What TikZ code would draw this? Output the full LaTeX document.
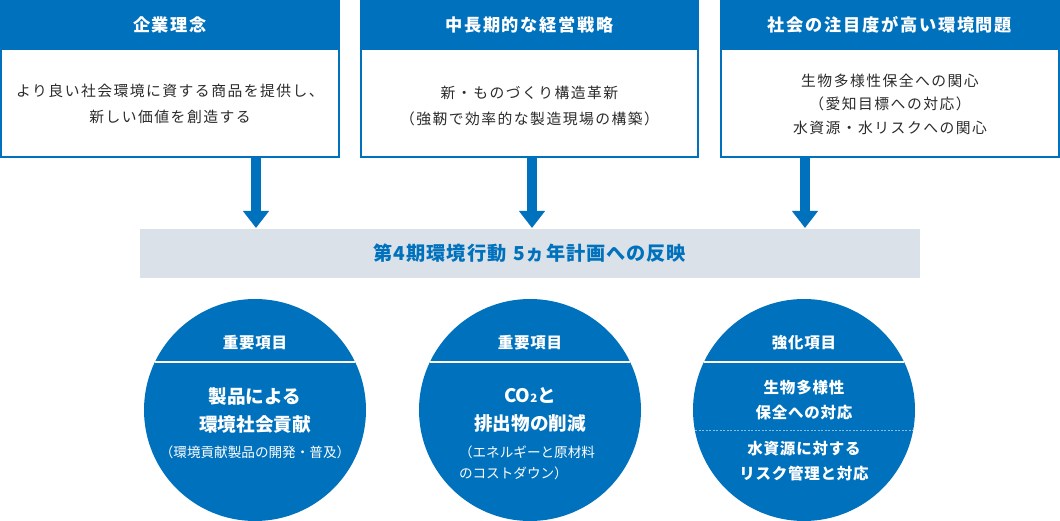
\documentclass[tikz,border=0pt]{standalone}
\usepackage{fontspec}
\newfontfamily\jp{Noto Sans CJK JP}
\newfontfamily\jpls{Noto Sans CJK JP}[LetterSpace=10]
\newfontfamily\jplt{Noto Sans CJK JP}[LetterSpace=5]
\usetikzlibrary{arrows.meta,calc}
\definecolor{mainblue}{HTML}{0071BC}
\definecolor{bandgray}{HTML}{DAE1E9}
\definecolor{bodytext}{HTML}{2B2B2B}
\begin{document}
\begin{tikzpicture}[x=1pt,y=-1pt,
  frame/.style={draw=mainblue, line width=2pt, fill=white, minimum height=156pt, inner sep=0pt, outer sep=0pt},
  header/.style={fill=mainblue, minimum height=50pt, inner sep=0pt, text=white,
                 font=\jpls\bfseries\fontsize{17.2}{20}\selectfont},
  bodytxt/.style={align=center, inner sep=0pt, text=bodytext,
                  font=\jpls\fontsize{14.8}{26}\selectfont},
  band/.style={fill=bandgray, minimum width=780pt, minimum height=49pt, inner sep=0pt,
               text=mainblue, font=\jplt\bfseries\fontsize{19.2}{22}\selectfont},
  bigarrow/.style={draw=mainblue, line width=10pt,
                   -{Triangle[width=25pt,length=17pt]}},
  disc/.style={circle, fill=mainblue, minimum size=222pt, inner sep=0pt},
  ctitle/.style={inner sep=0pt, text=white, font=\jplt\bfseries\fontsize{15.5}{18}\selectfont},
  cmain/.style={align=center, inner sep=0pt, text=white, font=\jp\bfseries\fontsize{18.6}{28}\selectfont},
  cmainb/.style={align=center, inner sep=0pt, text=white, font=\jplt\bfseries\fontsize{15.5}{25}\selectfont},
  csmall/.style={inner sep=0pt, text=white, font=\jp\fontsize{13.6}{21}\selectfont},
  chord/.style={draw=white, line width=2pt},
  dchord/.style={draw=white, draw opacity=0.55, line width=0.8pt, dash pattern=on 2pt off 1.5pt}
]
\useasboundingbox (0,0) rectangle (1060,521);

% top boxes
\node[frame, minimum width=338pt] (f1) at (170,79) {};
\node[header, minimum width=340pt] (h1) at (170,25) {企業理念};
\node[bodytxt] (t1) at (170,104) {より良い社会環境に資する商品を提供し、\\新しい価値を創造する};

\node[frame, minimum width=337pt] (f2) at (529.5,79) {};
\node[header, minimum width=339pt] (h2) at (529.5,25) {中長期的な経営戦略};
\node[bodytxt] (t2) at (529.5,106) {新・ものづくり構造革新\\（強靭で効率的な製造現場の構築）};

\node[frame, minimum width=338pt] (f3) at (890,79) {};
\node[header, minimum width=340pt] (h3) at (890,25) {社会の注目度が高い環境問題};
\node[bodytxt, font=\jpls\fontsize{14.8}{23.5}\selectfont] (t3) at (890,104) {生物多様性保全への関心\\（愛知目標への対応）\\水資源・水リスクへの関心};

% band
\node[band] (band) at (530,253.5) {第4期環境行動\hspace{0.35em}5ヵ年計画への反映};

% arrows
\coordinate (a1) at (256,228);
\coordinate (a2) at (532,228);
\coordinate (a3) at (805,228);
\draw[bigarrow] (f1.south -| a1) -- (a1);
\draw[bigarrow] (f2.south -| a2) -- (a2);
\draw[bigarrow] (f3.south -| a3) -- (a3);

% circles
\node[disc] (c1) at (255,410) {};
\node[disc] (c2) at (530,410) {};
\node[disc] (c3) at (804,410) {};

\draw[chord] ($(c1.center)+(-100,-48)$) -- ($(c1.center)+(100,-48)$);
\draw[chord] ($(c2.center)+(-100,-48)$) -- ($(c2.center)+(100,-48)$);
\draw[chord] ($(c3.center)+(-100,-48)$) -- ($(c3.center)+(100,-48)$);
\draw[dchord] ($(c3.center)+(-109,20)$) -- ($(c3.center)+(109,20)$);

\node[ctitle] (c1t) at (255,343) {重要項目};
\node[cmain] (c1m) at (255,410) {製品による\\環境社会貢献};
\node[csmall] (c1s) at (255,452) {（環境貢献製品の開発・普及）};

\node[ctitle] (c2t) at (530,343) {重要項目};
\node[cmain] (c2m) at (530,410) {CO{\fontsize{11.5}{11}\selectfont 2}と\\排出物の削減};
\node[csmall, align=left] (c2s) at (527,462.5) {（エネルギーと原材料\\のコストダウン）};

\node[ctitle] (c3t) at (804,343) {強化項目};
\node[cmainb] (c3a) at (804,400.5) {生物多様性\\保全への対応};
\node[cmainb] (c3b) at (804,461) {水資源に対する\\リスク管理と対応};
\end{tikzpicture}
\end{document}
